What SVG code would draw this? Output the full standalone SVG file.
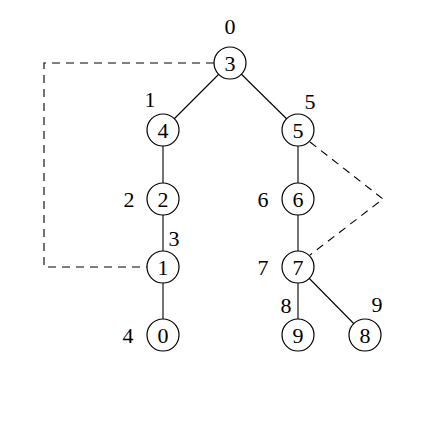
<svg xmlns="http://www.w3.org/2000/svg" width="433" height="421" viewBox="0 0 433 421">
<style>
.n circle{fill:#fff;stroke:#000;stroke-width:1.2}
.e line,.e polyline{stroke:#000;stroke-width:1.1;fill:none}
.d{stroke-dasharray:8 6}
</style>
<rect width="433" height="421" fill="#fff"/>
<g id="connectors" class="e">
<line x1="230" y1="63" x2="163" y2="130"/>
<line x1="230" y1="63" x2="298" y2="130"/>
<line x1="163" y1="130" x2="163" y2="335"/>
<line x1="298" y1="130" x2="298" y2="335"/>
<line x1="298" y1="267" x2="365" y2="335"/>
<polyline class="d" points="214,63 44,63 44,267 147,267"/>
<polyline class="d" points="310,142 383,199 310,255"/>
</g>
<g font-family="Liberation Serif, Times New Roman, serif" font-size="22" fill="#000" text-anchor="middle">
<g id="node-3"><g class="n"><circle cx="230" cy="63" r="16"/></g><text x="230" y="71">3</text><text x="230" y="34">0</text></g>
<g id="node-4"><g class="n"><circle cx="163" cy="130" r="16"/></g><text x="163" y="138">4</text><text x="150" y="107">1</text></g>
<g id="node-5"><g class="n"><circle cx="298" cy="130" r="16"/></g><text x="298" y="138">5</text><text x="310" y="109">5</text></g>
<g id="node-2"><g class="n"><circle cx="163" cy="199" r="16"/></g><text x="163" y="207">2</text><text x="129" y="207">2</text></g>
<g id="node-1"><g class="n"><circle cx="163" cy="267" r="16"/></g><text x="163" y="275">1</text><text x="174" y="246">3</text></g>
<g id="node-0"><g class="n"><circle cx="163" cy="335" r="16"/></g><text x="163" y="343">0</text><text x="128" y="343">4</text></g>
<g id="node-6"><g class="n"><circle cx="298" cy="199" r="16"/></g><text x="298" y="207">6</text><text x="263" y="207">6</text></g>
<g id="node-7"><g class="n"><circle cx="298" cy="267" r="16"/></g><text x="298" y="275">7</text><text x="263" y="275">7</text></g>
<g id="node-9"><g class="n"><circle cx="298" cy="335" r="16"/></g><text x="298" y="343">9</text><text x="286" y="313">8</text></g>
<g id="node-8"><g class="n"><circle cx="365" cy="335" r="16"/></g><text x="365" y="343">8</text><text x="377" y="312">9</text></g>
</g>
</svg>
